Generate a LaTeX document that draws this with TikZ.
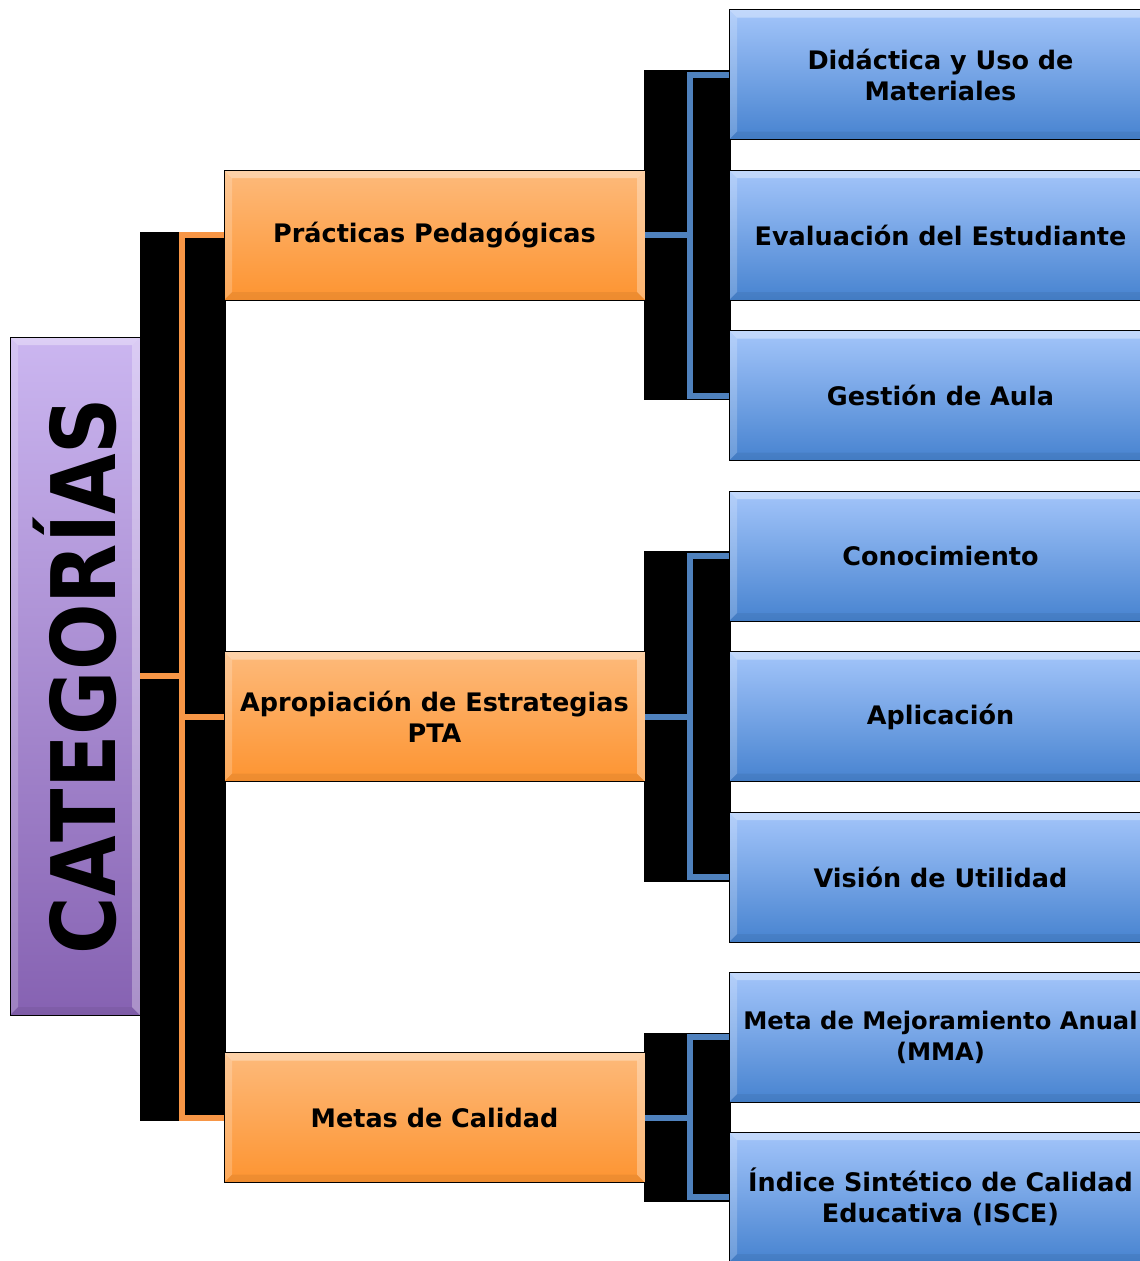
\documentclass[tikz,border=0pt]{standalone}
\usepackage{fontspec}
\setmainfont{DejaVu Sans}
\usepackage{graphicx}
\definecolor{naranja}{HTML}{F79646}
\definecolor{azul}{HTML}{4F81BD}
\definecolor{moradoA}{HTML}{CBB6F0}
\definecolor{moradoB}{HTML}{8662B2}
\definecolor{naranjaA}{HTML}{FDBA7B}
\definecolor{naranjaB}{HTML}{FD9431}
\definecolor{azulA}{HTML}{A3C5FA}
\definecolor{azulB}{HTML}{4783D0}
\tikzset{
  bisel/.style={path picture={
      \coordinate (nw) at (path picture bounding box.north west);
      \coordinate (ne) at (path picture bounding box.north east);
      \coordinate (sw) at (path picture bounding box.south west);
      \coordinate (se) at (path picture bounding box.south east);
      \fill[white,opacity=.35] (nw) -- (ne) -- ([xshift=-8pt,yshift=-8pt]ne) -- ([xshift=8pt,yshift=-8pt]nw) -- cycle;
      \fill[white,opacity=.2] (nw) -- (sw) -- ([xshift=8pt,yshift=8pt]sw) -- ([xshift=8pt,yshift=-8pt]nw) -- cycle;
      \fill[white,opacity=.3] (ne) -- (se) -- ([xshift=-8pt,yshift=8pt]se) -- ([xshift=-8pt,yshift=-8pt]ne) -- cycle;
      \fill[black,opacity=.06] (sw) -- (se) -- ([xshift=-8pt,yshift=8pt]se) -- ([xshift=8pt,yshift=8pt]sw) -- cycle;
    }},
  caja/.style={rectangle, draw=black, line width=1pt, inner sep=0pt, outer sep=0pt,
    align=center, font=\bfseries\fontsize{25.5}{31}\selectfont, bisel},
  cajamorada/.style={caja, top color=moradoA, bottom color=moradoB,
    minimum width=130pt, minimum height=678pt},
  cajanaranja/.style={caja, top color=naranjaA, bottom color=naranjaB,
    minimum width=421pt, minimum height=130pt},
  cajaazul/.style={caja, top color=azulA, bottom color=azulB,
    minimum width=423pt, minimum height=130pt},
  lineaO/.style={naranja, line width=6pt},
  lineaA/.style={azul, line width=6pt},
}
\begin{document}
\begin{tikzpicture}[x=1pt, y=-1pt]
  \useasboundingbox (0,0) rectangle (1140,1261);
  \fill[white] (0,0) rectangle (1140,1261);
  % Fondos negros
  \fill[black] (140,232) rectangle (226,1121);
  \fill[black] (644,70) rectangle (731,400);
  \fill[black] (644,551) rectangle (731,882);
  \fill[black] (644,1033) rectangle (731,1202);
  % Categorias
  \node[cajamorada] (cat) at (75,676)
    {\rotatebox{90}{\fontsize{89}{89}\selectfont\scalebox{0.88}[1]{CATEGORÍAS}}};
  \node[cajanaranja] (pp) at (434.5,235) {Prácticas Pedagógicas};
  \node[cajanaranja] (ae) at (434.5,716.5) {Apropiación de Estrategias\\PTA};
  \node[cajanaranja] (mc) at (434.5,1117.5) {Metas de Calidad};
  % Subcategorias
  \node[cajaazul] (dum) at (940.5,74.5) {Didáctica y Uso de\\Materiales};
  \node[cajaazul] (eve) at (940.5,235) {Evaluación del Estudiante};
  \node[cajaazul] (gda) at (940.5,395.5) {Gestión de Aula};
  \node[cajaazul] (con) at (940.5,556) {Conocimiento};
  \node[cajaazul] (apl) at (940.5,716.5) {Aplicación};
  \node[cajaazul] (vdu) at (940.5,877) {Visión de Utilidad};
  \node[cajaazul, font=\bfseries\fontsize{24.2}{31}\selectfont] (mma) at (940.5,1037)
    {Meta de Mejoramiento Anual\\(MMA)};
  \node[cajaazul] (isce) at (940.5,1197) {Índice Sintético de Calidad\\Educativa (ISCE)};
  % Conectores
  \coordinate (jO) at (182,676);
  \draw[lineaO] (cat.east) -- (jO);
  \draw[lineaO] (pp.west) -| (jO) |- (mc.west);
  \draw[lineaO] (jO) |- (ae.west);
  \coordinate (jA1) at (690,235);
  \draw[lineaA] (pp.east) -- (jA1);
  \draw[lineaA] (dum.west) -| (jA1) |- (gda.west);
  \coordinate (jA2) at (690,716.5);
  \draw[lineaA] (ae.east) -- (jA2);
  \draw[lineaA] (con.west) -| (jA2) |- (vdu.west);
  \coordinate (jA3) at (690,1117.5);
  \draw[lineaA] (mc.east) -- (jA3);
  \draw[lineaA] (mma.west) -| (jA3) |- (isce.west);
\end{tikzpicture}
\end{document}
